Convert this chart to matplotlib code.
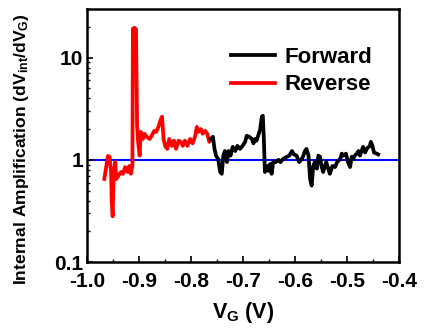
import matplotlib
matplotlib.use('Agg')
from matplotlib import pyplot as plt
from matplotlib.ticker import LogLocator, MultipleLocator, FixedLocator
import numpy as np

plt.rcParams['font.family'] = ['Liberation Sans', 'DejaVu Sans']
plt.rcParams['font.weight'] = 'bold'
plt.rcParams['mathtext.fontset'] = 'custom'
plt.rcParams['mathtext.rm'] = 'Liberation Sans:bold'
plt.rcParams['mathtext.it'] = 'Liberation Sans:bold'
plt.rcParams['mathtext.bf'] = 'Liberation Sans:bold'

# reverse sweep (red)
rev_v = [-0.967, -0.965, -0.962, -0.960, -0.957, -0.954, -0.953, -0.951, -0.949,
         -0.946, -0.944, -0.940, -0.935, -0.931, -0.927, -0.922, -0.919, -0.916,
         -0.913, -0.912, -0.909, -0.906, -0.904, -0.902, -0.899, -0.897, -0.893,
         -0.890, -0.885, -0.880, -0.876, -0.871, -0.867, -0.863, -0.858, -0.856,
         -0.853, -0.850, -0.846, -0.842, -0.837, -0.833, -0.829, -0.824, -0.820,
         -0.816, -0.812, -0.807, -0.802, -0.797, -0.792, -0.789, -0.786, -0.781,
         -0.778, -0.773, -0.769, -0.765, -0.762]
rev_a = [0.65, 0.76, 0.95, 1.09, 1.07, 0.76, 0.41, 0.28, 0.76,
         0.95, 0.65, 0.70, 0.76, 0.73, 0.85, 0.76, 0.87, 0.73,
         0.87, 19.2, 19.6, 18.9, 2.15, 1.5, 1.1, 1.88, 1.6,
         1.8, 1.68, 1.6, 1.72, 1.92, 1.88, 2.1, 2.52, 2.64,
         1.6, 1.37, 1.28, 1.6, 1.37, 1.54, 1.28, 1.54, 1.5,
         1.37, 1.54, 1.37, 1.6, 1.45, 1.72, 2.1, 1.88, 2.0,
         1.8, 1.92, 1.8, 1.5, 1.6]

# forward sweep (black)
fwd_v = [-0.762, -0.758, -0.755, -0.752, -0.748, -0.744, -0.741, -0.738, -0.735,
         -0.731, -0.728, -0.724, -0.720, -0.715, -0.711, -0.706, -0.701, -0.696,
         -0.693, -0.688, -0.683, -0.680, -0.677, -0.674, -0.671, -0.667, -0.664,
         -0.662, -0.660, -0.658, -0.654, -0.651, -0.648, -0.645, -0.642, -0.637,
         -0.632, -0.628, -0.623, -0.616, -0.611, -0.606, -0.602, -0.597, -0.592,
         -0.587, -0.584, -0.581, -0.578, -0.574, -0.571, -0.568, -0.565, -0.562,
         -0.558, -0.555, -0.552, -0.549, -0.546, -0.540, -0.536, -0.533, -0.528,
         -0.523, -0.519, -0.513, -0.510, -0.507, -0.502, -0.498, -0.494, -0.491,
         -0.488, -0.485, -0.481, -0.478, -0.475, -0.472, -0.469, -0.465, -0.462,
         -0.456, -0.454, -0.451, -0.448, -0.443, -0.440]
fwd_a = [1.6, 1.68, 1.28, 1.1, 1.02, 0.76, 0.73, 1.1, 1.22,
         0.95, 1.22, 1.1, 1.34, 1.22, 1.37, 1.28, 1.37, 1.5,
         1.72, 1.68, 1.6, 1.45, 1.6, 1.54, 1.72, 2.0, 2.64,
         2.7, 1.6, 0.76, 0.87, 0.78, 0.91, 0.73, 0.95, 0.95,
         1.0, 0.95, 1.02, 1.07, 1.1, 1.22, 1.13, 1.1, 0.95,
         1.02, 1.1, 1.22, 1.28, 1.1, 0.65, 0.56, 0.87, 0.95,
         0.82, 1.1, 1.07, 0.87, 0.76, 0.95, 0.82, 0.73, 0.87,
         0.85, 0.95, 1.02, 1.15, 1.1, 1.15, 0.95, 0.85, 1.07,
         1.02, 1.1, 1.15, 1.22, 1.1, 1.22, 1.34, 1.18, 1.28,
         1.37, 1.5, 1.37, 1.18, 1.15, 1.13]

fig = plt.figure(figsize=(4.36, 3.3), dpi=100)
ax = fig.add_axes([0.2, 0.206, 0.715, 0.767])

ax.axhline(1, color='blue', lw=1.5, zorder=1)
ax.plot(fwd_v, fwd_a, color='black', lw=2.7, label='Forward', zorder=3)
ax.plot(rev_v, rev_a, color='red', lw=2.7, label='Reverse', zorder=2)

ax.set_yscale('log')
ax.set_xlim(-1.0, -0.4)
ax.set_ylim(0.1, 30)

ax.xaxis.set_major_locator(MultipleLocator(0.1))
ax.xaxis.set_minor_locator(MultipleLocator(0.05))
ax.set_xticklabels(['%.1f' % t for t in ax.get_xticks()])
ax.yaxis.set_major_locator(FixedLocator([0.1, 1, 10]))
ax.yaxis.set_minor_locator(LogLocator(base=10, subs=np.arange(2, 10)))
ax.yaxis.set_minor_formatter(matplotlib.ticker.NullFormatter())
ax.set_yticklabels(['0.1', '1', '10'])

ax.tick_params(which='both', direction='in', top=False, right=False)
ax.tick_params(which='major', length=4, width=1.2, labelsize=15)
ax.tick_params(axis='x', which='major', pad=7)
ax.tick_params(axis='y', which='major', pad=3)
ax.tick_params(which='minor', length=2.5, width=1.0)
for s in ax.spines.values():
    s.set_linewidth(1.8)

ax.set_xlabel('V$_\\mathregular{G}$ (V)', fontsize=15.5, fontweight='bold', labelpad=7)
ax.set_ylabel('Internal Amplification (dV$_\\mathregular{int}$/dV$_\\mathregular{G}$)',
              fontsize=12.6, fontweight='bold')
ax.yaxis.set_label_coords(-0.18, 0.445)

leg = ax.legend(loc='upper right', frameon=False, fontsize=16, handlelength=2.0,
                handletextpad=0.45, labelspacing=0.3, bbox_to_anchor=(0.98, 0.93))

fig.savefig('out.png', dpi=100)
